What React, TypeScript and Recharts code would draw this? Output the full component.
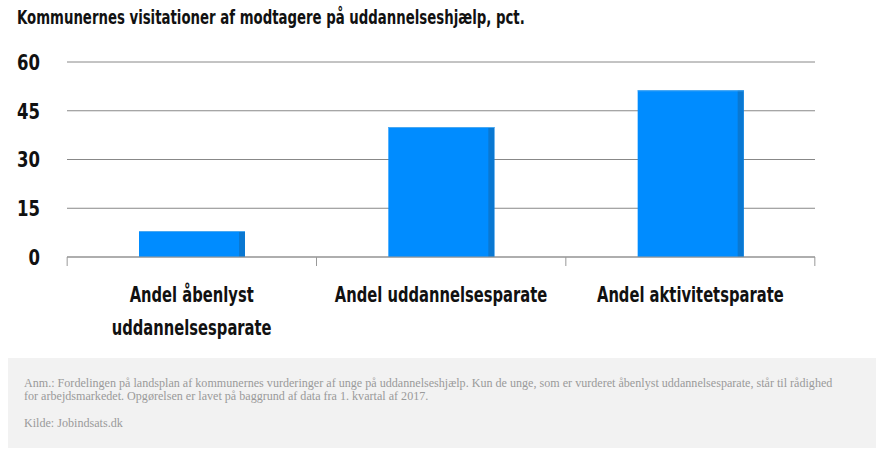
import { BarChart, Bar, XAxis, YAxis, CartesianGrid } from 'recharts';

const categories = [
  'Andel åbenlyst uddannelsesparate',
  'Andel uddannelsesparate',
  'Andel aktivitetsparate',
];
const shares = [8, 40, 51.3];
const yTicks = [0, 15, 30, 45, 60];

const data = categories.map((name, i) => ({ name, value: shares[i] }));

// no condensed font installed, so the bold sans is squeezed horizontally
const boldSans = '"DejaVu Sans", sans-serif';
const BAND = 249;

function splitLabel(label: string): string[] {
  if (label.length <= 24) return [label];
  const words = label.split(' ');
  return [words.slice(0, -1).join(' '), words[words.length - 1]];
}

function BarShape(props: any) {
  const { x, y, width, height } = props;
  if (!height || height <= 0) return null;
  return (
    <g>
      <rect x={x} y={y} width={width} height={height} fill="#008cff" />
      <rect x={x + width - 6} y={y} width={6} height={height} fill="#0a78d2" />
      <rect x={x} y={y} width={width} height={1} fill="#4aa8f0" />
    </g>
  );
}

function CategoryTick(props: any) {
  const { x, y, payload, index } = props;
  const left = x - BAND / 2;
  const right = x + BAND / 2;
  const lines = splitLabel(payload.value);
  return (
    <g>
      <line x1={left} y1={y - 8} x2={left} y2={y + 1} stroke="#999" />
      {index === categories.length - 1 && (
        <line x1={right} y1={y - 8} x2={right} y2={y + 1} stroke="#999" />
      )}
      <g transform={`translate(${x},${y + 37}) scale(0.67,1)`}>
        <text
          x={0}
          y={0}
          textAnchor="middle"
          fontFamily={boldSans}
          fontWeight="bold"
          fontSize={22}
          fill="#111"
        >
          {lines.map((l, i) => (
            <tspan key={i} x={0} dy={i === 0 ? 0 : 33}>
              {l}
            </tspan>
          ))}
        </text>
      </g>
    </g>
  );
}

function ValueTick(props: any) {
  const { x, y, payload, textAnchor } = props;
  return (
    <g transform={`translate(${x},${y}) scale(0.75,1)`}>
      <text
        x={0}
        y={0}
        dy="0.36em"
        textAnchor={textAnchor}
        fontFamily={boldSans}
        fontWeight="bold"
        fontSize={22}
        fill="#111"
      >
        {payload.value}
      </text>
    </g>
  );
}

export default function App() {
  return (
    <div
      style={{
        position: 'absolute',
        left: 0,
        top: 0,
        width: 881,
        height: 454,
        background: '#fff',
      }}
    >
      <div
        style={{
          position: 'absolute',
          left: 17,
          top: 5,
          fontFamily: boldSans,
          fontWeight: 'bold',
          fontSize: 20,
          color: '#111',
          whiteSpace: 'nowrap',
          transform: 'scaleX(0.665)',
          transformOrigin: 'left top',
        }}
      >
        Kommunernes visitationer af modtagere på uddannelseshjælp, pct.
      </div>
      <div style={{ position: 'absolute', left: 0, top: 40 }}>
        <BarChart
          width={881}
          height={310}
          data={data}
          margin={{ top: 22, right: 0, bottom: 33, left: 0 }}
          barCategoryGap={0}
        >
          <CartesianGrid vertical={false} stroke="#888" strokeWidth={1} />
          <XAxis
            dataKey="name"
            height={60}
            axisLine={{ stroke: '#999' }}
            tickLine={false}
            tick={<CategoryTick />}
            interval={0}
          />
          <YAxis
            yAxisId={0}
            width={67}
            domain={[0, 60]}
            ticks={yTicks}
            axisLine={false}
            tickLine={false}
            tickMargin={21}
            tick={<ValueTick />}
          />
          <YAxis
            yAxisId="r"
            orientation="right"
            width={66}
            domain={[0, 60]}
            ticks={yTicks}
            axisLine={false}
            tickLine={false}
            tickMargin={21}
            tick={<ValueTick />}
          />
          <Bar
            dataKey="value"
            yAxisId={0}
            barSize={106}
            shape={<BarShape />}
            isAnimationActive={false}
          />
        </BarChart>
      </div>
      <div
        style={{
          position: 'absolute',
          left: 8,
          top: 358,
          width: 868,
          height: 90,
          boxSizing: 'border-box',
          padding: '19px 40px 0 16px',
          background: '#f2f2f2',
          fontFamily: '"Liberation Serif", serif',
          fontSize: 12.1,
          lineHeight: '13px',
          color: '#9a9a9a',
        }}
      >
        <div>
          Anm.: Fordelingen på landsplan af kommunernes vurderinger af unge på uddannelseshjælp. Kun de unge, som er vurderet åbenlyst uddannelsesparate, står til rådighed for arbejdsmarkedet. Opgørelsen er lavet på baggrund af data fra 1. kvartal af 2017.
        </div>
        <div style={{ marginTop: 14 }}>Kilde: Jobindsats.dk</div>
      </div>
    </div>
  );
}
